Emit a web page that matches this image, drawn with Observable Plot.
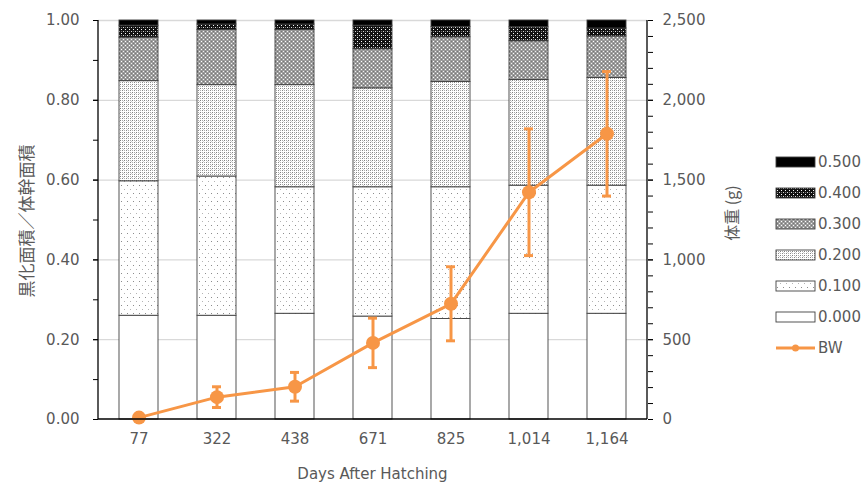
<!DOCTYPE html>
<html>
<head>
<meta charset="utf-8">
<script src="https://cdn.jsdelivr.net/npm/d3@7"></script>
<script src="https://cdn.jsdelivr.net/npm/@observablehq/plot@0.6"></script>
<style>
  body { margin: 0; background: #fff; }
  #chart { position: relative; width: 864px; height: 483px; }
</style>
</head>
<body>
<div id="chart"></div>
<script>
// Age of the fish (days after hatching)
const days = ["77", "322", "438", "671", "825", "1,014", "1,164"];

// Melanised-area classes (share of trunk area), bottom to top of each stack
const classes = ["0.000", "0.100", "0.200", "0.300", "0.400", "0.500"];
const share000 = [0.260, 0.260, 0.265, 0.258, 0.252, 0.265, 0.265];
const share100 = [0.337, 0.349, 0.317, 0.324, 0.330, 0.321, 0.321];
const share200 = [0.251, 0.229, 0.256, 0.248, 0.264, 0.265, 0.270];
const share300 = [0.109, 0.138, 0.138, 0.098, 0.112, 0.097, 0.104];
const share400 = [0.030, 0.014, 0.014, 0.059, 0.026, 0.035, 0.020];
const share500 = [0.013, 0.010, 0.010, 0.013, 0.016, 0.017, 0.020];

// Body weight (g): mean and standard deviation
const bwMean = [12, 140, 205, 480, 725, 1424, 1790];
const bwSd = [3, 65, 90, 155, 232, 397, 390];
const bwMax = 2500; // top of the right-hand axis

// Tick values
const leftTicks = [0, 0.2, 0.4, 0.6, 0.8, 1.0];
const leftMinor = [0, 0.1, 0.2, 0.3, 0.4, 0.5, 0.6, 0.7, 0.8, 0.9, 1.0];
const rightTicks = [0, 500, 1000, 1500, 2000, 2500];
const rightMinor = d3.range(0, 2501, 100);

const orange = "#F79646";
const shares = [share000, share100, share200, share300, share400, share500];
const rows = classes.flatMap((c, k) => days.map((d, i) => ({day: d, cls: c, v: shares[k][i]})));
const bw = days.map((d, i) => ({day: d, mean: bwMean[i], sd: bwSd[i]}));
const toY = g => g / bwMax;

const font = "'DejaVu Sans','Noto Sans CJK JP',sans-serif";
const cjk = "'Noto Sans CJK JP','DejaVu Sans',sans-serif";

const chart = Plot.plot({
  width: 864,
  height: 483,
  marginLeft: 98,
  marginRight: 217,
  marginTop: 20,
  marginBottom: 64,
  style: {fontFamily: font, fontSize: "15px", color: "#595959", background: "#fff", overflow: "visible"},
  x: {type: "band", domain: days, paddingInner: 0.5, paddingOuter: 0.25, label: null},
  y: {domain: [0, 1], label: null},
  color: {domain: classes, range: classes.map((c, i) => `url(#pat${i})`)},
  marks: [
    Plot.gridY(leftTicks.slice(1), {stroke: "#d9d9d9", strokeOpacity: 1, strokeWidth: 1.3}),
    Plot.barY(rows, {x: "day", y: "v", fill: "cls", stroke: "#404040", strokeWidth: 0.9}),
    // left axis
    Plot.axisY(leftMinor, {anchor: "left", tickSize: 5, tickFormat: () => "", stroke: "#000"}),
    Plot.axisY(leftTicks, {anchor: "left", tickSize: 5, tickPadding: 14, tickFormat: d3.format(".2f"), stroke: "#000", fill: "#595959"}),
    // right axis (body weight, g)
    Plot.axisY(rightMinor.map(toY), {anchor: "right", tickSize: 5, tickFormat: () => "", stroke: "#000"}),
    Plot.axisY(rightTicks.map(toY), {anchor: "right", tickSize: 5, tickPadding: 10, tickFormat: d => d3.format(",")(Math.round(d * bwMax)), stroke: "#000", fill: "#595959"}),
    // bottom axis
    Plot.axisX(days, {anchor: "bottom", tickSize: 0, tickPadding: 14, fill: "#595959"}),
    // body weight: error bars, caps, line, points
    Plot.ruleX(bw, {x: "day", y1: d => toY(d.mean - d.sd), y2: d => toY(d.mean + d.sd), stroke: orange, strokeWidth: 3}),
    Plot.tickY(bw, {x: "day", y: d => toY(d.mean - d.sd), stroke: orange, strokeWidth: 3, insetLeft: 15, insetRight: 15}),
    Plot.tickY(bw, {x: "day", y: d => toY(d.mean + d.sd), stroke: orange, strokeWidth: 3, insetLeft: 15, insetRight: 15}),
    Plot.line(bw, {x: "day", y: d => toY(d.mean), stroke: orange, strokeWidth: 3}),
    Plot.dot(bw, {x: "day", y: d => toY(d.mean), r: 7, fill: orange, stroke: "none"})
  ]
});

document.getElementById("chart").appendChild(chart);

const svg = d3.select(chart);

// Fill patterns for the melanisation classes
const defs = svg.insert("defs", ":first-child");
function pattern(id, w, h, bg, dots) {
  const p = defs.append("pattern").attr("id", id).attr("patternUnits", "userSpaceOnUse")
    .attr("width", w).attr("height", h);
  p.append("rect").attr("width", w).attr("height", h).attr("fill", bg);
  for (const [x, y, c] of dots) p.append("rect").attr("x", x).attr("y", y).attr("width", 1).attr("height", 1).attr("fill", c);
}
pattern("pat0", 4, 4, "#ffffff", []);
pattern("pat1", 6, 8, "#ffffff", [[1, 1, "#8c8c8c"], [4, 5, "#b4b4b4"]]);
pattern("pat2", 4, 4, "#ffffff", [[0, 0, "#808080"], [2, 2, "#888888"], [2, 0, "#a8a8a8"], [0, 2, "#b0b0b0"], [3, 1, "#d0d0d0"]]);
pattern("pat3", 4, 4, "#9c9c9c", [[1, 1, "#ffffff"], [3, 3, "#f0f0f0"], [1, 3, "#767676"], [3, 1, "#7a7a7a"]]);
pattern("pat4", 4, 4, "#121212", [[1, 1, "#ffffff"], [3, 3, "#d8d8d8"], [1, 3, "#707070"]]);
pattern("pat5", 4, 4, "#000000", []);

// Axis lines
const xs = chart.scale("x").range;
const ys = chart.scale("y").range;
const lines = svg.append("g").attr("stroke", "#000").attr("stroke-width", 1.3);
lines.append("line").attr("x1", xs[0]).attr("x2", xs[0]).attr("y1", ys[0]).attr("y2", ys[1]);
lines.append("line").attr("x1", xs[1]).attr("x2", xs[1]).attr("y1", ys[0]).attr("y2", ys[1]);
lines.append("line").attr("x1", xs[0]).attr("x2", xs[1]).attr("y1", ys[0]).attr("y2", ys[0]);

// Axis titles
svg.append("text").attr("transform", "translate(25,221) rotate(-90)")
  .attr("text-anchor", "middle").attr("dominant-baseline", "central")
  .attr("fill", "#595959").style("font-family", cjk).style("font-size", "17px")
  .text("黒化面積／体幹面積");
svg.append("text").attr("transform", "translate(731,213) rotate(-90)")
  .attr("text-anchor", "middle").attr("dominant-baseline", "central")
  .attr("fill", "#595959").style("font-family", cjk).style("font-size", "16px")
  .text("体重 (g)");
svg.append("text").attr("x", (xs[0] + xs[1]) / 2).attr("y", 474)
  .attr("text-anchor", "middle").attr("dominant-baseline", "central")
  .attr("fill", "#595959").style("font-size", "15px")
  .text("Days After Hatching");

// Legend
const legend = svg.append("g").attr("transform", "translate(776,162)").attr("text-anchor", "start");
const legendClasses = classes.slice().reverse();
legendClasses.forEach((c, i) => {
  const g = legend.append("g").attr("transform", `translate(0,${i * 31})`);
  g.append("rect").attr("x", 0).attr("y", -5).attr("width", 39).attr("height", 10)
    .attr("fill", `url(#pat${classes.indexOf(c)})`).attr("stroke", "#404040").attr("stroke-width", 0.9);
  g.append("text").attr("x", 42).attr("y", 0).attr("dominant-baseline", "central")
    .attr("text-anchor", "start").attr("fill", "#595959").style("font-size", "15px").text(c);
});
const bwItem = legend.append("g").attr("transform", `translate(0,${6 * 31})`);
bwItem.append("line").attr("x1", 0).attr("x2", 39).attr("stroke", orange).attr("stroke-width", 3);
bwItem.append("circle").attr("cx", 19.5).attr("r", 3.5).attr("fill", orange);
bwItem.append("text").attr("x", 42).attr("y", 0).attr("dominant-baseline", "central")
  .attr("text-anchor", "start").attr("fill", "#595959").style("font-size", "15px").text("BW");
</script>
</body>
</html>
